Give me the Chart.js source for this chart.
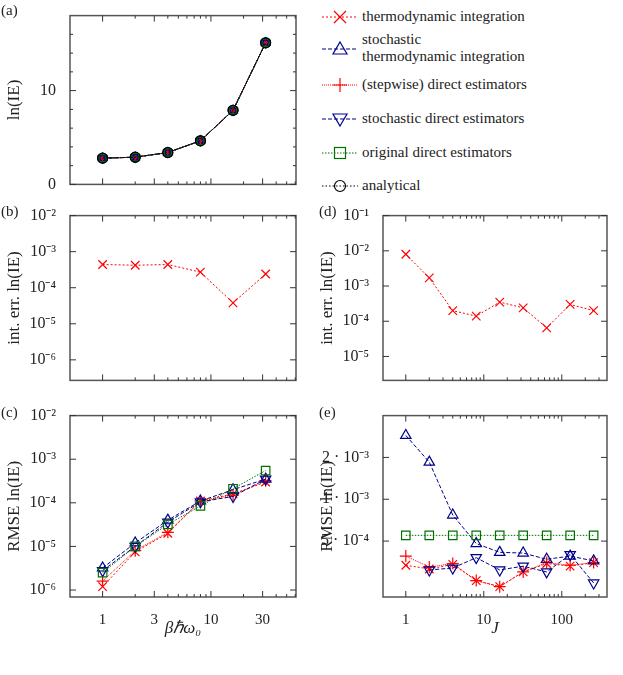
<!DOCTYPE html>
<html><head><meta charset="utf-8">
<script src="https://cdn.jsdelivr.net/npm/chart.js@4/dist/chart.umd.min.js"></script>
<style>
body{margin:0;width:623px;height:675px;position:relative;background:#fff;font-family:"Liberation Serif",serif;overflow:hidden}
.p{position:absolute}
.lab{position:absolute;font-size:15px;color:#222}
.leg{position:absolute;left:322px;font-size:15px;color:#222;line-height:17px}
.leg svg{position:absolute;left:0;top:0}
.leg span{position:absolute;left:40px;white-space:nowrap}
</style></head><body>
<div class="p" style="left:0;top:0;width:310px;height:200px"><canvas id="ca"></canvas></div>
<div class="p" style="left:0;top:200px;width:310px;height:196px"><canvas id="cb"></canvas></div>
<div class="p" style="left:0;top:400px;width:310px;height:275px"><canvas id="cc"></canvas></div>
<div class="p" style="left:313px;top:200px;width:310px;height:196px"><canvas id="cd"></canvas></div>
<div class="p" style="left:313px;top:400px;width:310px;height:275px"><canvas id="ce"></canvas></div>
<div class="lab" style="left:1px;top:2px">(a)</div>
<div class="lab" style="left:1px;top:203px">(b)</div>
<div class="lab" style="left:1px;top:404px">(c)</div>
<div class="lab" style="left:319px;top:203px">(d)</div>
<div class="lab" style="left:319px;top:404px">(e)</div>
<div id="legend"></div>
<script>
// ---- data ----
const beta = [1,2,4,8,16,32];
const lnIE = [2.8,2.9,3.4,4.65,7.9,15.1];
const intErrBeta = [4.4e-4,4.2e-4,4.4e-4,2.7e-4,3.8e-5,2.4e-4];
const rmseBetaTI   = [1.2e-6,7.5e-6,2.0e-5,1.1e-4,1.6e-4,3.0e-4];
const rmseBetaSTI  = [3.2e-6,1.2e-5,4.0e-5,1.1e-4,2.0e-4,3.5e-4];
const rmseBetaDE   = [1.6e-6,8.0e-6,2.1e-5,1.1e-4,1.5e-4,3.2e-4];
const rmseBetaSDE  = [2.8e-6,1.0e-5,3.6e-5,1.05e-4,1.4e-4,3.5e-4];
const rmseBetaODE  = [2.5e-6,1.0e-5,3.2e-5,8.5e-5,2.1e-4,5.5e-4];
const J = [1,2,4,8,16,32,64,128,256];
const intErrJ = [8e-3,1.7e-3,2e-4,1.4e-4,3.5e-4,2.4e-4,6.5e-5,3e-4,2e-4];
const rmseJTI  = [3.35e-4,3.15e-4,3.4e-4,2.6e-4,2.35e-4,3.0e-4,3.45e-4,3.3e-4,3.5e-4];
const rmseJSTI = [2.88e-3,1.85e-3,7.7e-4,4.8e-4,4.15e-4,4.1e-4,3.7e-4,3.9e-4,3.6e-4];
const rmseJDE  = [3.9e-4,3.25e-4,3.45e-4,2.6e-4,2.35e-4,3.0e-4,3.5e-4,3.35e-4,3.5e-4];
const rmseJSDE = [null,3.1e-4,3.2e-4,3.8e-4,3.1e-4,3.3e-4,3.0e-4,4.0e-4,2.5e-4];
const rmseJODE = [5.5e-4,5.5e-4,5.5e-4,5.5e-4,5.5e-4,5.5e-4,5.5e-4,5.5e-4,5.5e-4];
const xTicksBeta = [1,3,10,30];
const xTicksJ = [1,10,100];
const yTicksA = [0,10];
const yTicksB = [1e-2,1e-3,1e-4,1e-5,1e-6];
const yTicksD = [1e-1,1e-2,1e-3,1e-4,1e-5];
const yTicksE = [2e-3,1e-3,5e-4];
const legendLabels = ["thermodynamic integration","stochastic\nthermodynamic integration","(stepwise) direct estimators","stochastic direct estimators","original direct estimators","analytical"];

const RED='#ff0000', BLUE='#00008b', GREEN='#007000', BLACK='#000';
const SER = {
  TI:{c:RED,s:'crossRot',d:[2,2],r:0},
  STI:{c:BLUE,s:'triangle',d:[4,2],r:0},
  DE:{c:RED,s:'cross',d:[1,1],r:0},
  SDE:{c:BLUE,s:'triangle',d:[4,2],r:180},
  ODE:{c:GREEN,s:'rect',d:[1.5,1.5],r:0},
  AN:{c:BLACK,s:'circle',d:[1.5,2],r:0}
};
function ds(xs, ys, k, rad){
  const S=SER[k];
  return {data: xs.map((x,i)=>({x, y:ys[i]})), borderColor:S.c, backgroundColor:'transparent',
    borderWidth:1, borderDash:S.d, pointStyle:S.s, pointRotation:S.r, pointRadius:rad||6,
    pointBorderColor:S.c, pointBorderWidth:1.2, pointBackgroundColor:'transparent', spanGaps:true, tension:0};
}
function sup(n){const m={'-':'⁻','0':'⁰','1':'¹','2':'²','3':'³','4':'⁴','5':'⁵','6':'⁶','7':'⁷','8':'⁸','9':'⁹'};return String(n).split('').map(c=>m[c]).join('');}
function fmtPow(v){const e=Math.round(Math.log10(v));return '10'+sup(e);}
function fmtMant(v){const e=Math.floor(Math.log10(v)+1e-9);const m=Math.round(v/Math.pow(10,e));return m+' · 10'+sup(e);}
function minorLog(min,max){const out=[];for(let e=-8;e<4;e++)for(let m=2;m<=9;m++){const v=m*Math.pow(10,e);if(v>min&&v<max)out.push(v);}return out;}

const frame={id:'frame',afterDraw(ch){
  const o=ch.options.plugins.frame, a=ch.chartArea, c=ch.ctx;
  c.save();c.strokeStyle='#555';c.lineWidth=1.5;c.strokeRect(a.left,a.top,a.right-a.left,a.bottom-a.top);
  c.lineWidth=1;c.strokeStyle='#333';
  const xs=ch.scales.x, ys=ch.scales.y;
  const tk=(list,len,isX)=>list.forEach(v=>{
    if(isX){const p=xs.getPixelForValue(v);c.beginPath();c.moveTo(p,a.bottom);c.lineTo(p,a.bottom-len);c.moveTo(p,a.top);c.lineTo(p,a.top+len);c.stroke();}
    else{const p=ys.getPixelForValue(v);c.beginPath();c.moveTo(a.left,p);c.lineTo(a.left+len,p);c.moveTo(a.right,p);c.lineTo(a.right-len,p);c.stroke();}
  });
  tk(o.xMaj,6,true);tk(o.xMin,3,true);tk(o.yMaj,6,false);tk(o.yMin,3,false);
  c.restore();
}};
Chart.register(frame);
const FONT={family:'"Liberation Serif", serif',size:15};
const TFONT={family:'"Liberation Serif", serif',size:17};
function make(id,datasets,cfg){
  new Chart(document.getElementById(id),{type:'line',data:{datasets},
    options:{responsive:true,maintainAspectRatio:false,animation:false,
      layout:{padding:{top:cfg.top,right:cfg.right,left:0,bottom:cfg.bottom||0}},
      plugins:{legend:{display:false},tooltip:{enabled:false},
        frame:{xMaj:cfg.xMaj,xMin:cfg.xMin,yMaj:cfg.yMaj,yMin:cfg.yMin}},
      scales:{
        x:{type:'logarithmic',min:cfg.xmin,max:cfg.xmax,grid:{display:false},border:{display:false},
          afterBuildTicks:s=>{s.ticks=cfg.xMaj.map(v=>({value:v}));},
          ticks:{display:cfg.xLabels,color:'#222',font:FONT,autoSkip:false,maxRotation:0,padding:6,callback:v=>String(v)},
          title:{display:!!cfg.xTitle,text:cfg.xTitle,color:'#222',font:{...TFONT,style:'italic'},padding:{top:2}},
          afterFit:s=>{s.height=cfg.xh;}},
        y:{type:cfg.ylog?'logarithmic':'linear',min:cfg.ymin,max:cfg.ymax,grid:{display:false},border:{display:false},
          afterBuildTicks:s=>{s.ticks=cfg.yMaj.map(v=>({value:v}));},
          ticks:{color:'#222',font:{...FONT,size:16},autoSkip:false,padding:6,callback:cfg.yfmt},
          title:{display:true,text:cfg.yTitle,color:'#222',font:TFONT,padding:{bottom:2}},
          afterFit:s=>{s.width=cfg.yw;}}
      }}});
}
const betaMinor=[2,4,5,6,7,8,9,20,40,50,60].filter(v=>v<61);
const JMinor=minorLog(0.51,380).filter(v=>v>=1);

make('ca',[ds(beta,lnIE,'AN',5),ds(beta,lnIE,'ODE',5),ds(beta,lnIE,'SDE',5),ds(beta,lnIE,'DE',4),ds(beta,lnIE,'STI',5),ds(beta,lnIE,'TI',4),
  {data:beta.map((x,i)=>({x,y:lnIE[i]})),borderColor:'#000',borderWidth:1,pointRadius:5,pointBackgroundColor:'#1010c0',pointBorderColor:'#000',backgroundColor:'transparent'}],
  {top:10,right:14,xmin:0.5,xmax:61,xLabels:false,xh:8,ymin:0,ymax:18,ylog:false,yw:70,yTitle:'ln(IE)',
   yfmt:v=>String(v),xMaj:xTicksBeta,xMin:betaMinor,yMaj:yTicksA,yMin:[2,4,6,8,12,14,16]});
make('cb',[ds(beta,intErrBeta,'TI')],
  {top:13,right:14,xmin:0.5,xmax:61,xLabels:false,xh:6,ymin:Math.pow(10,-6.57),ymax:1e-2,ylog:true,yw:70,yTitle:'int. err. ln(IE)',
   yfmt:fmtPow,xMaj:xTicksBeta,xMin:betaMinor,yMaj:yTicksB,yMin:[]});
make('cc',[ds(beta,rmseBetaODE,'ODE'),ds(beta,rmseBetaSDE,'SDE'),ds(beta,rmseBetaSTI,'STI'),ds(beta,rmseBetaDE,'DE'),ds(beta,rmseBetaTI,'TI')],
  {top:14,right:14,bottom:32,xmin:0.5,xmax:61,xLabels:true,xh:46,xTitle:'βℏω₀',ymin:Math.pow(10,-6.16),ymax:1e-2,ylog:true,yw:70,yTitle:'RMSE ln(IE)',
   yfmt:fmtPow,xMaj:xTicksBeta,xMin:betaMinor,yMaj:yTicksB,yMin:[]});
make('cd',[ds(J,intErrJ,'TI')],
  {top:13,right:16,xmin:0.51,xmax:380,xLabels:false,xh:6,ymin:Math.pow(10,-5.68),ymax:1e-1,ylog:true,yw:70,yTitle:'int. err. ln(IE)',
   yfmt:fmtPow,xMaj:xTicksJ,xMin:JMinor,yMaj:yTicksD,yMin:[]});
make('ce',[ds(J,rmseJODE,'ODE'),ds(J,rmseJSDE,'SDE'),ds(J,rmseJSTI,'STI'),ds(J,rmseJDE,'DE'),ds(J,rmseJTI,'TI')],
  {top:15,right:16,bottom:32,xmin:0.51,xmax:380,xLabels:true,xh:46,xTitle:'J',ymin:1.98e-4,ymax:4e-3,ylog:true,yw:70,yTitle:'RMSE ln(IE)',
   yfmt:fmtMant,xMaj:xTicksJ,xMin:JMinor,yMaj:yTicksE,yMin:[]});

// legend
const legKeys=['TI','STI','DE','SDE','ODE','AN'];
const legY=[17,49,85,119,153,186];
const L=document.getElementById('legend');
legKeys.forEach((k,i)=>{
  const S=SER[k], y=legY[i];
  let mk='';
  if(k==='TI') mk='<path d="M12,3 L24,15 M24,3 L12,15" stroke="'+S.c+'" stroke-width="1.2"/>';
  if(k==='STI') mk='<path d="M18,2 L25,14 L11,14 Z" fill="none" stroke="'+S.c+'" stroke-width="1.2"/>';
  if(k==='DE') mk='<path d="M18,2 L18,16 M11,9 L25,9" stroke="'+S.c+'" stroke-width="1.2"/>';
  if(k==='SDE') mk='<path d="M18,16 L25,4 L11,4 Z" fill="none" stroke="'+S.c+'" stroke-width="1.2"/>';
  if(k==='ODE') mk='<rect x="12.5" y="3.5" width="11" height="11" fill="none" stroke="'+S.c+'" stroke-width="1.2"/>';
  if(k==='AN') mk='<circle cx="18" cy="9" r="5.5" fill="none" stroke="'+S.c+'" stroke-width="1.2"/>';
  const d=document.createElement('div');d.className='leg';d.style.top=(y-9)+'px';d.style.height='18px';
  const lines=legendLabels[i].split('\n');
  d.innerHTML='<svg width="36" height="18"><line x1="0" y1="9" x2="36" y2="9" stroke="'+S.c+'" stroke-width="1" stroke-dasharray="'+S.d.join(',')+'"/>'+mk+'</svg>'+
    lines.map((t,j)=>'<span style="top:'+(j*17-(lines.length-1)*17+ (lines.length>1?8:0))+'px">'+t+'</span>').join('');
  L.appendChild(d);
});
</script></body></html>
